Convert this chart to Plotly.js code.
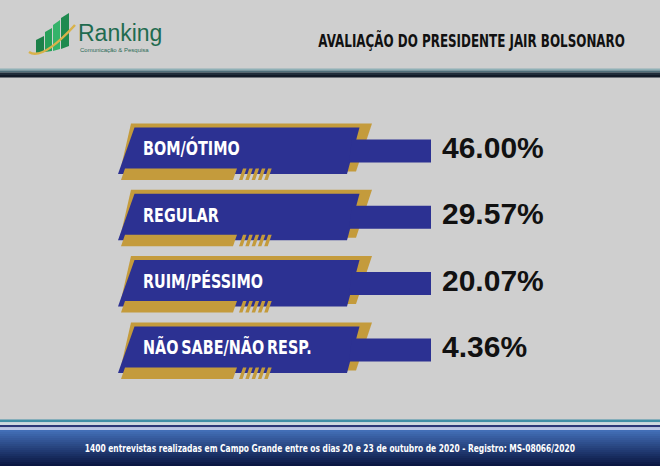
<!DOCTYPE html>
<html><head><meta charset="utf-8">
<script src="https://cdn.plot.ly/plotly-3.0.1.min.js"></script>
<style>html,body{margin:0;padding:0;background:#cfcfcf}#chart{width:660px;height:466px}</style>
</head><body><div id="chart"></div>
<script>
const categories = ["BOM/ÓTIMO", "REGULAR", "RUIM/PÉSSIMO", "NÃO SABE/NÃO RESP."];
const values = [46.00, 29.57, 20.07, 4.36];
const chartTitle = "AVALIAÇÃO DO PRESIDENTE JAIR BOLSONARO";
const footnote = "1400 entrevistas realizadas em Campo Grande entre os dias 20 e 23 de outubro de 2020 - Registro: MS-08066/2020";
const brand = "Ranking";
const brandSub = "Comunicação & Pesquisa";

const W = 660, H = 466, S = 66.3, C0 = 150.5;
const BLUE = '#2c3192', GOLD = '#c49b3c';
const NARROW = '"DejaVu Sans", sans-serif';
const shapes = [];
function py(p) { return 1 - p / H; }
function rectPaper(x0, y0, x1, y1, color) {
  shapes.push({type: 'rect', xref: 'x', yref: 'paper', x0: x0, x1: x1, y0: py(y1), y1: py(y0),
    fillcolor: color, line: {width: 0}, layer: 'below'});
}
function polyPaper(pts, color) {
  shapes.push({type: 'path', xref: 'x', yref: 'paper',
    path: 'M' + pts.map(p => p[0] + ',' + py(p[1])).join(' L') + ' Z',
    fillcolor: color, line: {width: 0}, layer: 'below'});
}
function polyCat(i, pts, color) {
  shapes.push({type: 'path', xref: 'x', yref: 'y',
    path: 'M' + pts.map(p => p[0] + ',' + (i + p[1] / S)).join(' L') + ' Z',
    fillcolor: color, line: {width: 0}, layer: 'below'});
}

// header separator
rectPaper(0, 68.5, W, 70.5, '#8fb0b6');
rectPaper(0, 70.5, W, 72.5, '#4f6e7a');
rectPaper(0, 72.5, W, 75, '#1f2c3a');
rectPaper(0, 75, W, 77.5, '#121a28');

// footer stripes
rectPaper(0, 419.5, W, 422.3, '#3f8ea6');
rectPaper(0, 422.3, W, 425, '#ccd8e0');
rectPaper(0, 425, W, 427.3, '#2b3778');
rectPaper(0, 427.3, W, 430, '#b9c4e6');
const nG = 18, g0 = [66, 110, 182], g1 = [10, 22, 66];
for (let k = 0; k < nG; k++) {
  const t = k / (nG - 1);
  const c = g0.map((v, j) => Math.round(v + (g1[j] - v) * t));
  const ya = 430 + (H - 430) * k / nG, yb = 430 + (H - 430) * (k + 1) / nG + 0.3;
  rectPaper(0, ya, W, yb, 'rgb(' + c.join(',') + ')');
}

// logo icon
polyPaper([[36, 40], [44, 36], [44, 52], [36, 53]], '#1c8049');
polyPaper([[45, 32], [52, 28], [52, 51], [45, 52]], '#27a05a');
polyPaper([[53, 25], [60, 20], [60, 49], [53, 51]], '#35b36a');
polyPaper([[61, 18], [69, 13], [69, 46], [61, 49]], '#1f8a4f');
shapes.push({type: 'path', xref: 'x', yref: 'paper',
  path: 'M29,' + py(52) + ' Q42,' + py(61) + ' 75,' + py(25),
  line: {color: '#d9b24a', width: 2.5}, layer: 'below'});

// banners
categories.forEach((c, i) => {
  polyCat(i, [[131, -27], [372, -27], [356, 21], [120, 21]], GOLD);
  polyCat(i, [[134.5, -23], [359.5, -23], [347, 23.5], [118, 23.5]], BLUE);
  polyCat(i, [[352, -11], [431, -11], [431, 12], [349, 12]], BLUE);
  polyCat(i, [[125, 18], [237, 18], [233, 29.5], [121, 29.5]], GOLD);
  for (let k = 0; k < 5; k++) {
    const x0 = 239 + k * 6.3;
    polyCat(i, [[x0 + 4, 18], [x0 + 7.5, 18], [x0 + 3.5, 29.5], [x0, 29.5]], GOLD);
  }
});

const traces = [
  {type: 'scatter', mode: 'text', x: categories.map(() => 143), y: categories,
   text: categories, textposition: 'middle right', cliponaxis: false,
   textfont: {family: NARROW, size: 20, color: '#ffffff', weight: 700}, hoverinfo: 'skip'},
  {type: 'scatter', mode: 'text', x: values.map(() => 442), y: categories,
   text: values.map(v => v.toFixed(2) + '%'), textposition: 'middle right', cliponaxis: false,
   textfont: {family: '"Liberation Sans", Arial, sans-serif', size: 30, color: '#111111', weight: 700}, hoverinfo: 'skip'}
];

const layout = {
  width: W, height: H, margin: {l: 0, r: 0, t: 0, b: 0},
  paper_bgcolor: '#cfcfcf', plot_bgcolor: 'rgba(0,0,0,0)',
  showlegend: false, hovermode: false,
  xaxis: {range: [0, W], visible: false, fixedrange: true},
  yaxis: {type: 'category', categoryorder: 'array', categoryarray: categories,
          range: [-C0 / S + H / S, -C0 / S], visible: false, fixedrange: true},
  shapes: shapes,
  annotations: [
    {text: chartTitle, xref: 'x', yref: 'paper', x: 471.5, y: py(40), xanchor: 'center', yanchor: 'middle',
     showarrow: false, font: {family: NARROW, size: 18, color: '#111111', weight: 700}},
    {text: brand, xref: 'x', yref: 'paper', x: 76, y: py(33), xanchor: 'left', yanchor: 'middle',
     showarrow: false, font: {family: '"Liberation Sans", Arial, sans-serif', size: 23, color: '#1f6b4f'}},
    {text: brandSub, xref: 'x', yref: 'paper', x: 78, y: py(50), xanchor: 'left', yanchor: 'middle',
     showarrow: false, font: {family: '"Liberation Sans", Arial, sans-serif', size: 6, color: '#2b6b56'}},
    {text: footnote, xref: 'x', yref: 'paper', x: 330, y: py(448), xanchor: 'center', yanchor: 'middle',
     showarrow: false, font: {family: NARROW, size: 10, color: '#ffffff', weight: 700}}
  ]
};

// squeeze a text horizontally (emulates the condensed typeface of the original)
function condense(el, target, anchor) {
  const bb = el.getBBox();
  if (!bb.width) return;
  const sx = target < 2 ? target : target / bb.width;
  const ax = anchor === 'left' ? bb.x : bb.x + bb.width / 2;
  const prev = el.getAttribute('transform') || '';
  el.setAttribute('transform', prev + ' translate(' + ax + ',0) scale(' + sx.toFixed(4) + ',1) translate(' + (-ax) + ',0)');
}

Plotly.newPlot('chart', traces, layout, {staticPlot: true, displayModeBar: false}).then(gd => {
  gd.querySelectorAll('.annotation-text').forEach(t => {
    const s = t.textContent;
    if (s === chartTitle) condense(t, 307, 'center');
    else if (s === footnote) condense(t, 491, 'center');
  });
  const tr = gd.querySelectorAll('.scatterlayer .trace');
  if (tr[0]) tr[0].querySelectorAll('.textpoint text').forEach(t => {
    t.style.wordSpacing = '-3px';
    condense(t, 0.72, 'left');
  });
});
</script>
</body></html>
